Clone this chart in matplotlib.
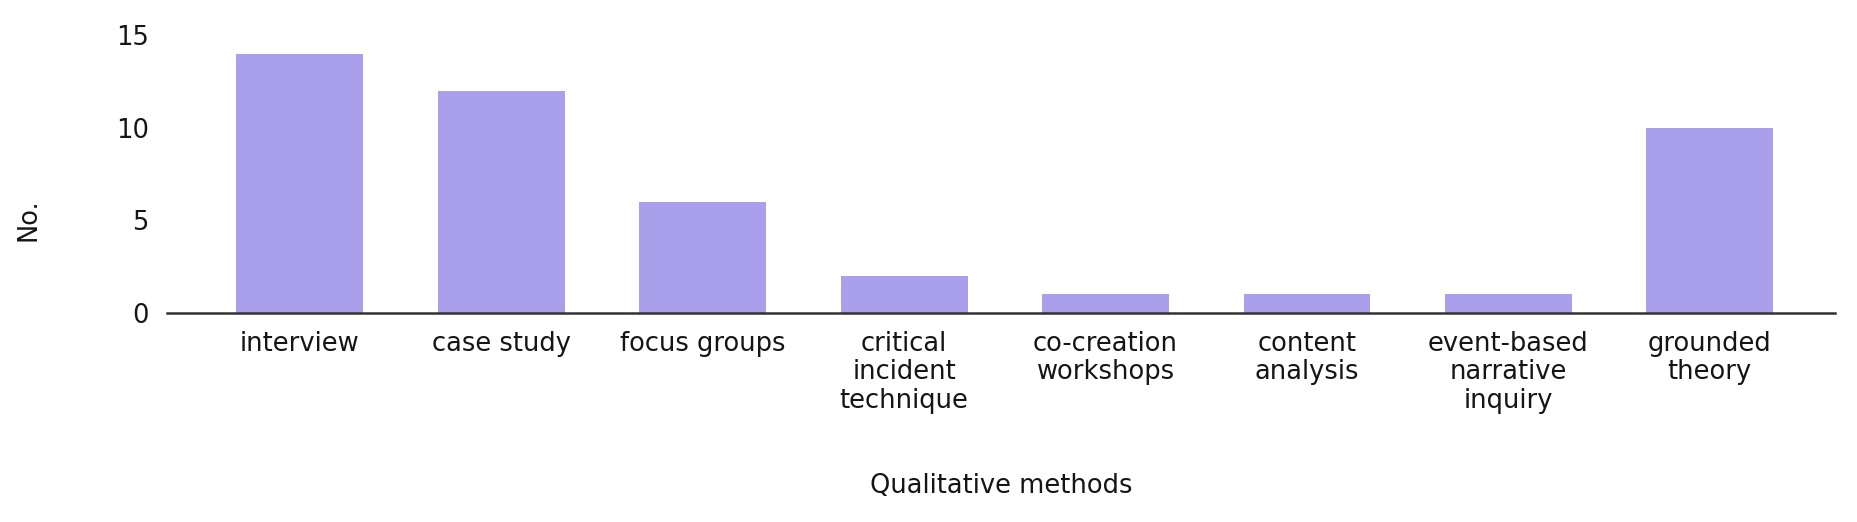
import matplotlib
matplotlib.use("Agg")
import matplotlib.pyplot as plt

# data
methods = [
    "interview",
    "case study",
    "focus groups",
    "critical\nincident\ntechnique",
    "co-creation\nworkshops",
    "content\nanalysis",
    "event-based\nnarrative\ninquiry",
    "grounded\ntheory",
]
counts = [14, 12, 6, 2, 1, 1, 1, 10]
y_ticks = [0, 5, 10, 15]

bar_color = "#aa9fea"
text_color = "#151515"

plt.rcParams["font.family"] = ["DejaVu Sans"]

fig = plt.figure(figsize=(18.57, 5.22), dpi=100)
ax = fig.add_axes([0.0899, 0.4004, 0.8981, 0.5326])

x = list(range(len(methods)))
ax.bar(x, counts, width=0.63, color=bar_color, zorder=2)

ax.set_xlim(-0.66, 7.62)
ax.set_ylim(0, 15)
ax.set_yticks(y_ticks)
ax.set_xticks(x)
ax.set_xticklabels(methods, fontsize=18.5, color=text_color, linespacing=1.12)
ax.tick_params(axis="y", length=0, pad=13, labelsize=18.5, labelcolor=text_color)
ax.tick_params(axis="x", length=0, pad=13)

for side in ["top", "right", "left"]:
    ax.spines[side].set_visible(False)
ax.spines["bottom"].set_color("#333333")
ax.spines["bottom"].set_linewidth(1.8)
ax.spines["bottom"].set_zorder(3)

ax.set_ylabel("No.", fontsize=18.5, color=text_color)
ax.yaxis.set_label_coords(-0.075, 0.335)
ax.set_xlabel("Qualitative methods", fontsize=18.5, color=text_color)
ax.xaxis.set_label_coords(0.5, -0.575)

fig.savefig("out.png", dpi=100)
